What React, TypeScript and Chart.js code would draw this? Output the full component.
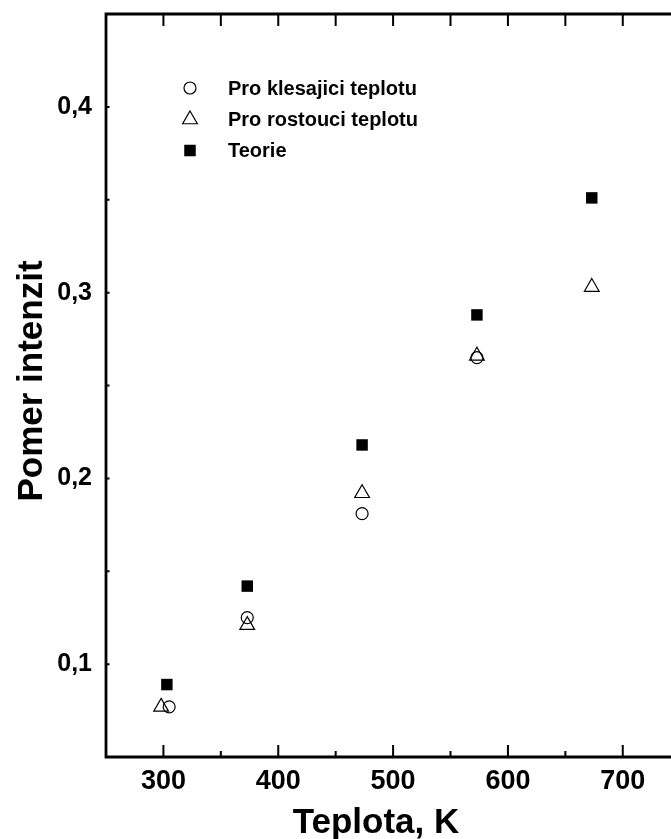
import React, { useEffect, useRef } from 'react';
import { Chart, registerables } from 'chart.js';

Chart.register(...registerables);

// ---- data ----
const xTicks = [300, 400, 500, 600, 700];
const xMinorTicks = [350, 450, 550, 650];
const yTicks = [0.1, 0.2, 0.3, 0.4];
const yMinorTicks = [0.15, 0.25, 0.35];

const tempKlesajici = [305, 373, 473, 573];
const valKlesajici = [0.077, 0.125, 0.181, 0.265];
const tempRostouci = [298, 373, 473, 573, 673];
const valRostouci = [0.077, 0.121, 0.192, 0.266, 0.303];
const tempTeorie = [303, 373, 473, 573, 673];
const valTeorie = [0.089, 0.142, 0.218, 0.288, 0.351];

const seriesNames = ['Pro klesajici teplotu', 'Pro rostouci teplotu', 'Teorie'];
const xTitle = 'Teplota, K';
const yTitle = 'Pomer intenzit';

const FONT = '"Liberation Sans", Arial, Helvetica, sans-serif';

const toPoints = (xs: number[], ys: number[]) => xs.map((x, i) => ({ x, y: ys[i] }));

function drawMarker(ctx: CanvasRenderingContext2D, style: string, x: number, y: number) {
  ctx.save();
  ctx.strokeStyle = '#000';
  ctx.fillStyle = '#000';
  ctx.lineWidth = 1.2;
  ctx.beginPath();
  if (style === 'circle') {
    ctx.arc(x, y, 6, 0, Math.PI * 2);
    ctx.stroke();
  } else if (style === 'triangle') {
    const r = 8.5;
    ctx.moveTo(x, y - r);
    ctx.lineTo(x + r * Math.sin((2 * Math.PI) / 3), y - r * Math.cos((2 * Math.PI) / 3));
    ctx.lineTo(x + r * Math.sin((4 * Math.PI) / 3), y - r * Math.cos((4 * Math.PI) / 3));
    ctx.closePath();
    ctx.stroke();
  } else {
    ctx.rect(x - 5.75, y - 5.75, 11.5, 11.5);
    ctx.fill();
  }
  ctx.restore();
}

const zeroPadding = (scale: any) => {
  scale.paddingLeft = 0;
  scale.paddingRight = 0;
  scale.paddingTop = 0;
  scale.paddingBottom = 0;
};

const framePlugin = {
  id: 'frame',
  afterDraw(chart: any) {
    const { ctx, chartArea, scales } = chart;
    const xs = scales.x;
    const ys = scales.y;
    const { left, right, top, bottom } = chartArea;
    ctx.save();
    ctx.strokeStyle = '#000';
    ctx.lineCap = 'butt';
    // axes lines
    ctx.lineWidth = 2.8;
    ctx.beginPath();
    ctx.moveTo(left, top);
    ctx.lineTo(left, bottom + 1.4);
    ctx.moveTo(left - 1.4, bottom);
    ctx.lineTo(right, bottom);
    ctx.moveTo(left - 1.4, top);
    ctx.lineTo(right, top);
    ctx.stroke();
    // x ticks
    ctx.lineWidth = 2;
    ctx.beginPath();
    xTicks.forEach((v) => {
      const px = xs.getPixelForValue(v);
      ctx.moveTo(px, bottom);
      ctx.lineTo(px, bottom - 12);
      ctx.moveTo(px, top);
      ctx.lineTo(px, top + 12);
    });
    xMinorTicks.forEach((v) => {
      const px = xs.getPixelForValue(v);
      ctx.moveTo(px, bottom);
      ctx.lineTo(px, bottom - 6);
      ctx.moveTo(px, top);
      ctx.lineTo(px, top + 12);
    });
    // y ticks (tiny)
    [...yTicks, ...yMinorTicks].forEach((v) => {
      const py = ys.getPixelForValue(v);
      ctx.moveTo(left, py);
      ctx.lineTo(left + 3.5, py);
    });
    ctx.stroke();

    // titles
    ctx.fillStyle = '#000';
    ctx.font = `bold 35px ${FONT}`;
    ctx.textAlign = 'center';
    ctx.textBaseline = 'alphabetic';
    ctx.fillText(xTitle, left + 270, 833);
    ctx.save();
    ctx.translate(42, 381);
    ctx.rotate(-Math.PI / 2);
    ctx.fillText(yTitle, 0, 0);
    ctx.restore();

    // legend
    const styles = ['circle', 'triangle', 'rect'];
    const rowsY = [88, 119.5, 150.5];
    ctx.font = `bold 20px ${FONT}`;
    ctx.textAlign = 'left';
    ctx.textBaseline = 'middle';
    seriesNames.forEach((name, i) => {
      drawMarker(ctx, styles[i], left + 84, rowsY[i]);
      ctx.fillText(name, left + 122, rowsY[i] + 1);
    });
    ctx.restore();
  },
};

export default function App() {
  const canvasRef = useRef<HTMLCanvasElement | null>(null);

  useEffect(() => {
    if (!canvasRef.current) return;
    const chart = new Chart(canvasRef.current, {
      type: 'scatter',
      data: {
        datasets: [
          {
            label: seriesNames[0],
            data: toPoints(tempKlesajici, valKlesajici),
            pointStyle: 'circle',
            pointRadius: 6,
            pointBorderWidth: 1.2,
            borderColor: '#000',
            backgroundColor: 'rgba(0,0,0,0)',
            showLine: false,
          },
          {
            label: seriesNames[1],
            data: toPoints(tempRostouci, valRostouci),
            pointStyle: 'triangle',
            pointRadius: 8.5,
            pointBorderWidth: 1.2,
            borderColor: '#000',
            backgroundColor: 'rgba(0,0,0,0)',
            showLine: false,
          },
          {
            label: seriesNames[2],
            data: toPoints(tempTeorie, valTeorie),
            pointStyle: 'rect',
            pointRadius: 8.1,
            pointBorderWidth: 0,
            borderColor: '#000',
            backgroundColor: '#000',
            showLine: false,
          },
        ],
      },
      options: {
        animation: false,
        responsive: false,
        events: [],
        layout: { autoPadding: false, padding: { top: 14, left: 0, right: 0, bottom: 0 } },
        plugins: {
          legend: { display: false },
          tooltip: { enabled: false },
          title: { display: false },
        },
        scales: {
          x: {
            type: 'linear',
            position: 'bottom',
            min: 250,
            max: 742,
            grid: { display: false, drawTicks: false },
            border: { display: false },
            afterBuildTicks: (scale: any) => {
              scale.ticks = xTicks.map((v) => ({ value: v }));
            },
            afterFit: (scale: any) => {
              scale.height = 82;
              zeroPadding(scale);
            },
            ticks: {
              padding: 8,
              color: '#000',
              maxRotation: 0,
              font: { family: FONT, size: 27, weight: 'bold' },
              callback: (v: any) => String(v),
            },
          },
          y: {
            type: 'linear',
            position: 'left',
            min: 0.05,
            max: 0.45,
            grid: { display: false, drawTicks: false },
            border: { display: false },
            afterBuildTicks: (scale: any) => {
              scale.ticks = yTicks.map((v) => ({ value: v }));
            },
            afterFit: (scale: any) => {
              scale.width = 106;
              zeroPadding(scale);
            },
            ticks: {
              padding: 14,
              color: '#000',
              font: { family: FONT, size: 25, weight: 'bold' },
              callback: (v: any) => Number(v).toFixed(1).replace('.', ','),
            },
          },
        },
      },
      plugins: [framePlugin],
    } as any);
    return () => chart.destroy();
  }, []);

  return (
    <div style={{ position: 'absolute', left: 0, top: 0, width: 671, height: 839, background: '#fff' }}>
      <canvas ref={canvasRef} width={671} height={839} style={{ display: 'block' }} />
    </div>
  );
}
